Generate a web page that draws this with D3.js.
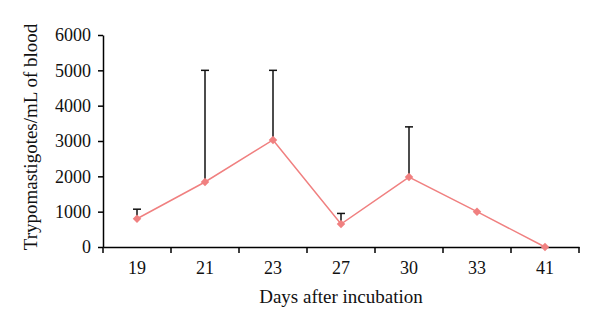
<!DOCTYPE html>
<html><head><meta charset="utf-8">
<script src="https://cdn.jsdelivr.net/npm/d3@7"></script>
<style>body{margin:0;background:#fff}svg{display:block}</style>
</head><body>
<svg id="c" width="600" height="328"></svg>
<script>
const days = ["19","21","23","27","30","33","41"];
const means = [800, 1840, 3030, 650, 1980, 1000, 0];
const upper = [1070, 5000, 5000, 950, 3400, null, null];
const yTicks = [0,1000,2000,3000,4000,5000,6000];

const svg = d3.select("#c");
const m = {l:103, r:21, t:35, b:81};
const W = 600, H = 328;
const x = d3.scaleBand().domain(days).range([m.l, W-m.r]);
const y = d3.scaleLinear().domain([0,6000]).range([H-m.b, m.t]);
const font = "'Liberation Serif', 'DejaVu Serif', serif";
const col = "#f08080";

// y axis
const ya = svg.append("g").attr("transform",`translate(${m.l},0)`)
  .call(d3.axisLeft(y).tickValues(yTicks).tickFormat(d3.format("d")).tickSize(5).tickSizeOuter(0).tickPadding(7));
ya.select(".domain").attr("stroke","#000").attr("stroke-width",1.5);
ya.selectAll("line").attr("stroke-width",1.5);
ya.selectAll("text").attr("font-family",font).attr("font-size",18).attr("fill","#111");

// x axis
const xa = svg.append("g").attr("transform",`translate(0,${H-m.b})`)
  .call(d3.axisBottom(x).tickSize(0).tickPadding(14));
xa.select(".domain").attr("stroke","#000").attr("stroke-width",1.5);
xa.selectAll("text").attr("font-family",font).attr("font-size",18).attr("fill","#111");
// boundary ticks between categories
const bounds = days.map(d=>x(d)).concat([x(days[days.length-1])+x.bandwidth()]);
xa.selectAll(".bt").data(bounds).join("line").attr("class","bt")
  .attr("x1",d=>d).attr("x2",d=>d).attr("y1",0).attr("y2",6)
  .attr("stroke","#000").attr("stroke-width",1.5);

const cx = d => x(d)+x.bandwidth()/2;

// error bars
const eb = days.map((d,i)=>({d, m:means[i], u:upper[i]})).filter(e=>e.u!=null);
svg.selectAll(".ev").data(eb).join("line")
  .attr("x1",e=>cx(e.d)).attr("x2",e=>cx(e.d))
  .attr("y1",e=>y(e.m)).attr("y2",e=>y(e.u))
  .attr("stroke","#111").attr("stroke-width",1.5);
svg.selectAll(".ec").data(eb).join("line")
  .attr("x1",e=>cx(e.d)-4).attr("x2",e=>cx(e.d)+4)
  .attr("y1",e=>y(e.u)).attr("y2",e=>y(e.u))
  .attr("stroke","#111").attr("stroke-width",1.5);

// line
const line = d3.line().x((v,i)=>cx(days[i])).y(v=>y(v));
svg.append("path").attr("d",line(means)).attr("fill","none")
  .attr("stroke",col).attr("stroke-width",1.5);

// markers
svg.selectAll(".mk").data(means).join("path")
  .attr("transform",(v,i)=>`translate(${cx(days[i])},${y(v)}) rotate(45)`)
  .attr("d",d3.symbol().type(d3.symbolSquare).size(36))
  .attr("fill",col);

// titles
svg.append("text").attr("x",(m.l+W-m.r)/2).attr("y",303)
  .attr("text-anchor","middle").attr("font-family",font).attr("font-size",19).attr("fill","#111")
  .text("Days after incubation");
svg.append("text").attr("transform",`translate(37,${(m.t+H-m.b)/2-4}) rotate(-90)`)
  .attr("text-anchor","middle").attr("font-family",font).attr("font-size",19).attr("fill","#111")
  .text("Trypomastigotes/mL of blood");
</script>
</body></html>
